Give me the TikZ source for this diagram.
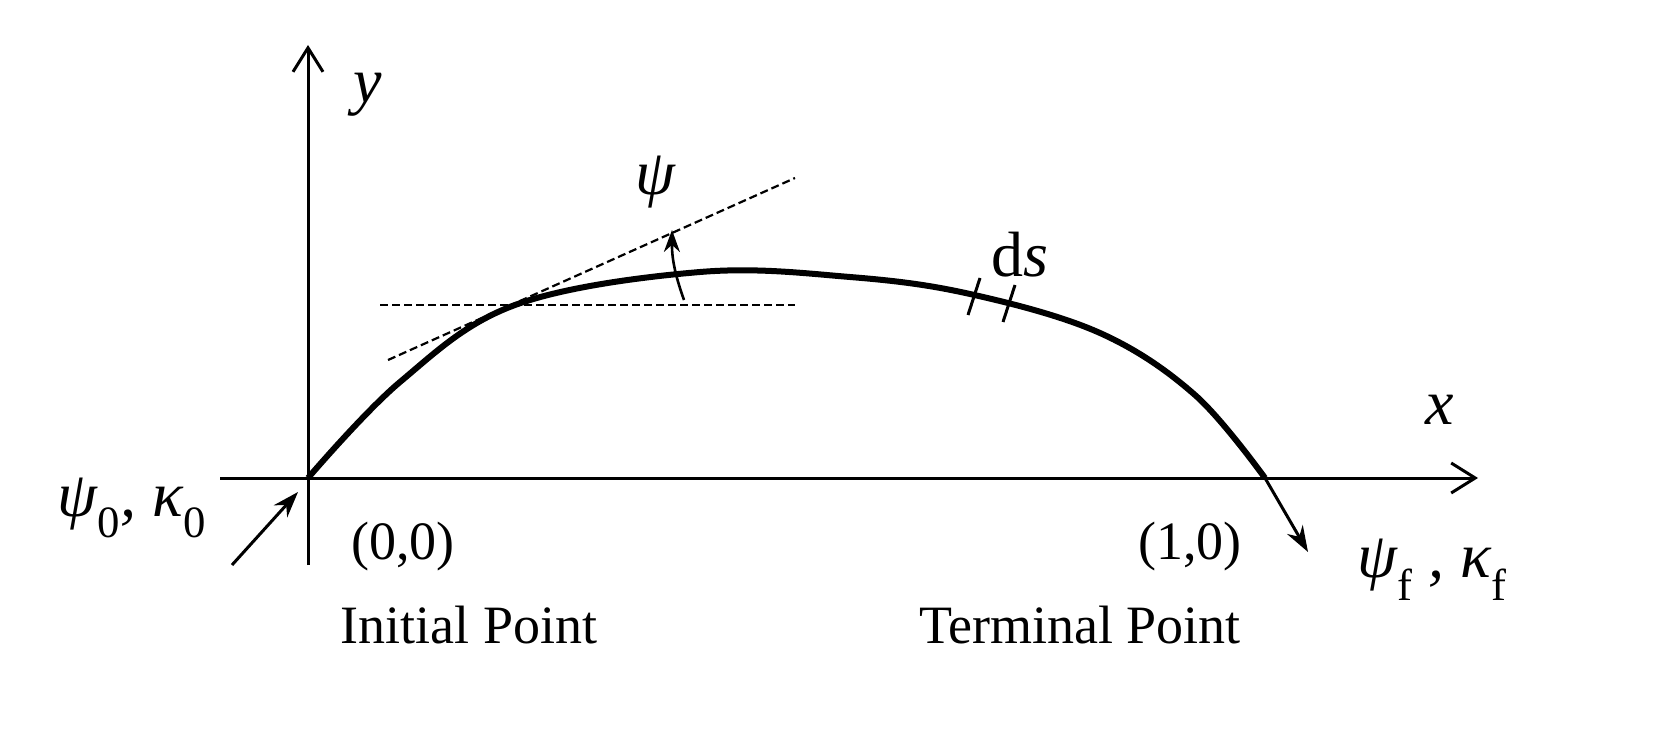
\documentclass[tikz,border=0pt]{standalone}
\usepackage{fontspec}
\setmainfont{Liberation Serif}
\usetikzlibrary{arrows.meta}
\begin{document}
\begin{tikzpicture}[x=1pt,y=-1pt,
  axis/.style={line width=3pt,-{Straight Barb[length=24pt,width=30pt,line width=3pt]}},
  dashln/.style={line width=2.2pt,dash pattern=on 8pt off 4pt},
  arr/.style={line width=3pt,-{Stealth[length=26pt,width=18pt]}},
  lbl/.style={font=\fontsize{54}{60}\selectfont,inner sep=0pt},
  ilbl/.style={font=\fontsize{64}{70}\selectfont\itshape,inner sep=0pt}]
\useasboundingbox (0,0) rectangle (1667,738);
\coordinate (o) at (308,478);
\coordinate (yb) at (308,565);
\coordinate (yt) at (308,45);
\coordinate (xl) at (220,478);
\coordinate (xr) at (1478,478);
\coordinate (t) at (1265,478);
\draw[axis] (yb) -- (yt);
\draw[axis] (xl) -- (xr);
\node[ilbl] (ylab) at (368,95) {y};
\node[ilbl] (xlab) at (1440,410) {x};
\draw[line width=6pt] plot[smooth,tension=0.6] coordinates {(308,478) (400,382) (515,305) (700,272) (850,277) (970,294) (1100,333) (1195,395) (1265,478)};
\coordinate (h1) at (380,305); \coordinate (h2) at (795,305);
\coordinate (t1) at (388,360); \coordinate (t2) at (795,178);
\draw[dashln] (h1) -- (h2);
\draw[dashln] (t1) -- (t2);
\coordinate (a1) at (684,300); \coordinate (a2) at (672,230);
\draw[line width=2.6pt,-{Stealth[length=22pt,width=16pt]}] (a1) to[bend left=10] (a2);
\node[ilbl] (psi) at (655,182) {ψ};
\coordinate (k1a) at (968,315); \coordinate (k1b) at (980,278);
\coordinate (k2a) at (1003,322); \coordinate (k2b) at (1015,285);
\draw[line width=3pt] (k1a) -- (k1b);
\draw[line width=3pt] (k2a) -- (k2b);
\node[ilbl] (ds) at (1020,255) {\upshape d\itshape s};
\coordinate (p0) at (232,565); \coordinate (p0e) at (298,492);
\draw[arr] (p0) -- (p0e);
\node[ilbl] (psi0) at (132,508) {ψ\textsubscript{\upshape 0}, κ\textsubscript{\upshape 0}};
\coordinate (pf) at (1308,552);
\draw[arr] (t) -- (pf);
\node[ilbl] (psif) at (1432,570) {ψ\textsubscript{\upshape f} , κ\textsubscript{\upshape f}};
\node[lbl] (c0) at (403,547) {(0,0)};
\node[lbl] (ip) at (469,625) {Initial Point};
\node[lbl] (c1) at (1190,547) {(1,0)};
\node[lbl] (tp) at (1080,625) {Terminal Point};
\end{tikzpicture}
\end{document}
